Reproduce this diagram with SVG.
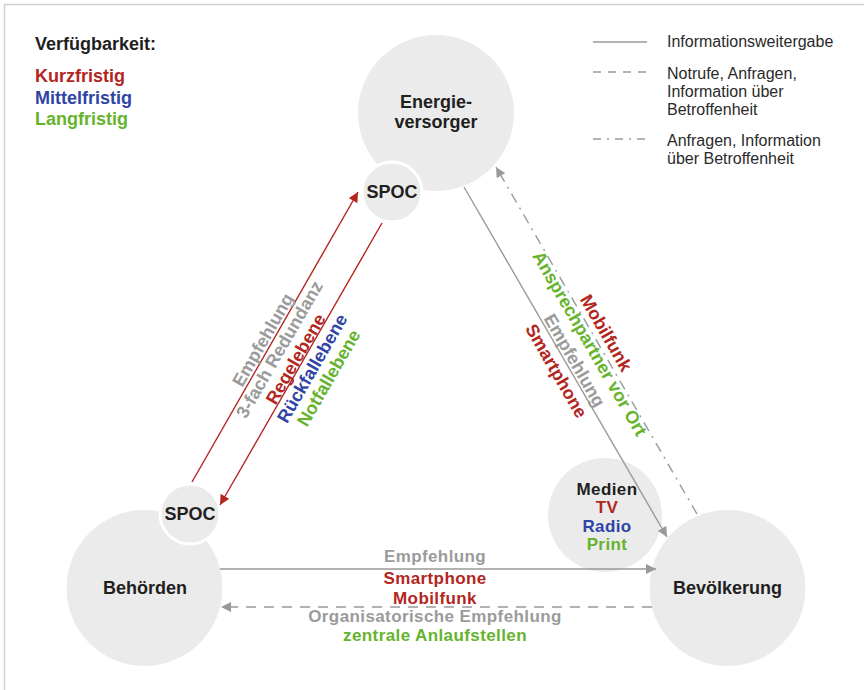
<svg xmlns="http://www.w3.org/2000/svg" width="864" height="690" viewBox="0 0 864 690">
<defs>
<style>
text{font-family:"Liberation Sans",Arial,Helvetica,sans-serif}
.b{font-weight:bold;font-size:18px}
.s{font-size:17px;letter-spacing:0.4px}
.lg{font-size:16px;fill:#2a2a2a}
.dk{fill:#1f1f1f}
.rd{fill:#b3261e}
.bl{fill:#2f45a5}
.gn{fill:#66b32e}
.gy{fill:#9b9b9b}
.node{fill:#ebebeb}
.spoc{fill:#ebebeb;stroke:#fff;stroke-width:3}
.lr{stroke:#b3261e;stroke-width:1.4;fill:none}
.lgy{stroke:#999;stroke-width:1.4;fill:none}
.dash{stroke-dasharray:10 8}
.dd{stroke-dasharray:10 6 2 6}
</style>
<marker id="ar" viewBox="0 0 10 10" refX="10" refY="5" markerWidth="10" markerHeight="10" markerUnits="userSpaceOnUse" orient="auto"><path d="M0,0 L10,5 L0,10 z" fill="#b3261e"/></marker>
<marker id="ag" viewBox="0 0 10 10" refX="10" refY="5" markerWidth="10" markerHeight="10" markerUnits="userSpaceOnUse" orient="auto"><path d="M0,0 L10,5 L0,10 z" fill="#999"/></marker>
</defs>
<rect x="0" y="0" width="864" height="690" fill="#fff"/>
<rect x="4.5" y="4.5" width="900" height="720" fill="none" stroke="#d2d2d2" stroke-width="1.5"/>

<g id="legend-availability">
<text x="35" y="50" class="b dk">Verfügbarkeit:</text>
<text x="35" y="82" class="b rd">Kurzfristig</text>
<text x="35" y="104" class="b bl">Mittelfristig</text>
<text x="35" y="125" class="b gn">Langfristig</text>
</g>

<g id="legend-lines">
<line x1="593" y1="42" x2="647" y2="42" class="lgy"/>
<text x="667" y="47" class="lg">Informationsweitergabe</text>
<line x1="593" y1="72" x2="647" y2="72" class="lgy" stroke-dasharray="8 7"/>
<text x="667" y="79" class="lg">Notrufe, Anfragen,</text>
<text x="667" y="97" class="lg">Information über</text>
<text x="667" y="115" class="lg">Betroffenheit</text>
<line x1="593" y1="139" x2="647" y2="139" class="lgy" stroke-dasharray="8 6 2 6"/>
<text x="667" y="146" class="lg">Anfragen, Information</text>
<text x="667" y="164" class="lg">über Betroffenheit</text>
</g>

<g id="energieversorger">
<circle cx="436" cy="113" r="78" class="node"/>
<text x="436" y="108" text-anchor="middle" class="b dk">Energie-</text>
<text x="436" y="128" text-anchor="middle" class="b dk">versorger</text>
</g>
<g id="spoc-energie">
<circle cx="392" cy="192" r="30" class="spoc"/>
<text x="392" y="198" text-anchor="middle" class="b dk">SPOC</text>
</g>
<g id="behoerden">
<circle cx="144.5" cy="588" r="78" class="node"/>
<text x="145" y="594" text-anchor="middle" class="b dk">Behörden</text>
</g>
<g id="spoc-behoerden">
<circle cx="190" cy="514" r="30" class="spoc"/>
<text x="190" y="520" text-anchor="middle" class="b dk">SPOC</text>
</g>
<g id="bevoelkerung">
<circle cx="727.5" cy="588" r="78" class="node"/>
<text x="727.5" y="594" text-anchor="middle" class="b dk">Bevölkerung</text>
</g>
<g id="medien">
<circle cx="605" cy="515" r="57" class="node"/>
<text x="607" y="495" text-anchor="middle" class="b s dk">Medien</text>
<text x="607" y="513" text-anchor="middle" class="b s rd">TV</text>
<text x="607" y="532" text-anchor="middle" class="b s bl">Radio</text>
<text x="607" y="550" text-anchor="middle" class="b s gn">Print</text>
</g>

<g id="connectors">
<line x1="192" y1="482" x2="358" y2="192" class="lr" marker-end="url(#ar)"/>
<line x1="382" y1="223" x2="220" y2="505" class="lr" marker-end="url(#ar)"/>
<line x1="464" y1="187" x2="667" y2="537" class="lgy" marker-end="url(#ag)"/>
<line x1="697" y1="514" x2="496" y2="167" class="lgy dd" marker-end="url(#ag)"/>
<line x1="220" y1="569" x2="656" y2="569" class="lgy" marker-end="url(#ag)"/>
<line x1="652" y1="607" x2="221" y2="607" class="lgy dash" marker-end="url(#ag)"/>
</g>

<g id="labels-left" transform="translate(263,340) rotate(-60)">
<text x="0" y="6" text-anchor="middle" class="b gy">Empfehlung</text>
<text x="0" y="25" text-anchor="middle" class="b gy">3-fach Redundanz</text>
<text x="0" y="44" text-anchor="middle" class="b rd">Regelebene</text>
<text x="0" y="63" text-anchor="middle" class="b bl">Rückfallebene</text>
<text x="0" y="82" text-anchor="middle" class="b gn">Notfallebene</text>
</g>

<g id="labels-right" transform="translate(606,333) rotate(60)">
<text x="0" y="6" text-anchor="middle" class="b rd">Mobilfunk</text>
<text x="1" y="25.5" text-anchor="middle" class="b gn">Ansprechpartner vor Ort</text>
<text x="8" y="47" text-anchor="middle" class="b gy">Empfehlung</text>
<text x="8" y="68" text-anchor="middle" class="b rd">Smartphone</text>
</g>

<g id="labels-bottom">
<text x="435" y="562" text-anchor="middle" class="b s gy">Empfehlung</text>
<text x="435" y="584" text-anchor="middle" class="b s rd">Smartphone</text>
<text x="435" y="604" text-anchor="middle" class="b s rd">Mobilfunk</text>
<text x="435" y="622" text-anchor="middle" class="b s gy">Organisatorische Empfehlung</text>
<text x="435" y="641" text-anchor="middle" class="b s gn">zentrale Anlaufstellen</text>
</g>
</svg>
